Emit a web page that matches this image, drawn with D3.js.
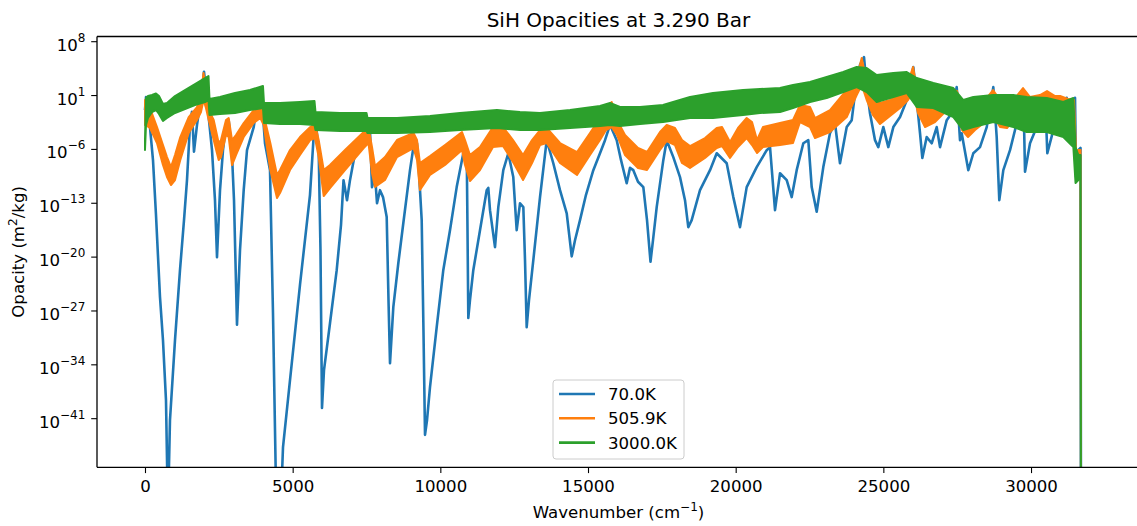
<!DOCTYPE html>
<html>
<head>
<meta charset="utf-8">
<script src="https://cdn.jsdelivr.net/npm/d3@7"></script>
<style>
  body { margin: 0; background: #fff; }
  svg { display: block; }
  text { font-family: "DejaVu Sans", sans-serif; fill: #000; }
</style>
</head>
<body>
<svg id="chart" width="1137" height="526"></svg>
<script>
// SiH opacity spectra at 3.290 bar, values as [wavenumber (cm^-1), log10 opacity (m^2/kg)]
// 70 K: a single spectrum trace
const opacity70K = [
  [0,-0.9],[34,0.8],[85,0.4],[169,-3.1],[271,-7.4],[372,-14.5],[508,-25.2],[609,-30.8],[711,-38.6],[762,-50],
  [796,-50],[846,-41.2],[1016,-30.8],[1185,-21.7],[1321,-15.2],[1422,-10.0],[1524,-2.8],[1591,-1.1],[1659,-6.3],[1761,-2.8],
  [1862,-0.2],[1998,4.1],[2099,0.4],[2269,-6.1],[2370,-12.6],[2438,-20.0],[2540,-11.3],[2641,-6.1],[2743,-2.8],[2834,-2.2],
  [2946,-6.7],[3014,-12.6],[3115,-28.8],[3217,-19.1],[3342,-11.3],[3454,-6.1],[3681,-3.1],[3826,0.4],[3928,2.0],[4063,-5.2],
  [4233,-8.7],[4334,-27.3],[4436,-50],[4622,-50],[4673,-44.7],[4910,-36.0],[5248,-23.6],[5587,-11.9],[5756,-1.5],[5881,-6.1],
  [5942,-19.1],[5993,-39.6],[6061,-34.7],[6264,-28.6],[6491,-21.7],[6637,-15.8],[6722,-10.0],[6840,-12.6],[6941,-10.0],[7067,-7.4],
  [7280,-4.8],[7483,-3.7],[7618,-3.5],[7686,-10.9],[7788,-9.3],[7856,-13.0],[7957,-11.3],[8059,-12.2],[8184,-14.8],[8245,-25.6],
  [8296,-33.8],[8408,-26.5],[8577,-20.8],[8746,-15.6],[8973,-8.7],[9085,-5.8],[9210,-5.2],[9254,-7.4],[9369,-15.2],[9429,-29.5],
  [9481,-43.1],[9549,-41.2],[9650,-36.9],[9877,-29.1],[10100,-21.7],[10327,-16.5],[10554,-10.9],[10778,-6.5],[10893,-6.1],[10920,-16.5],
  [10947,-27.9],[11004,-25.6],[11116,-21.7],[11343,-16.5],[11570,-11.3],[11624,-11.0],[11682,-13.9],[11851,-18.7],[11963,-13.5],[12132,-8.7],
  [12301,-6.5],[12470,-9.6],[12585,-16.5],[12698,-13.0],[12810,-13.5],[12867,-20.4],[12924,-29.1],[13002,-25.6],[13148,-20.4],[13375,-12.2],
  [13602,-4.8],[13825,-7.8],[14052,-11.3],[14279,-14.3],[14448,-19.9],[14560,-17.8],[14729,-15.2],[14932,-11.9],[15180,-8.7],[15406,-6.5],
  [15576,-4.8],[15745,-2.8],[15972,-4.8],[16118,-7.4],[16310,-10.4],[16422,-8.4],[16534,-8.7],[16693,-10.2],[16873,-10.9],[16998,-15.2],
  [17116,-20.6],[17201,-17.8],[17326,-13.5],[17550,-7.4],[17665,-4.8],[17888,-7.0],[18115,-9.6],[18284,-12.6],[18396,-16.1],[18511,-15.2],
  [18792,-11.3],[19131,-8.7],[19358,-6.5],[19696,-7.8],[19920,-12.2],[20147,-16.1],[20373,-10.9],[20712,-8.3],[21051,-6.1],[21163,-5.7],
  [21332,-13.9],[21501,-9.1],[21728,-10.0],[21897,-12.2],[22066,-8.7],[22290,-5.2],[22459,-4.8],[22574,-10.9],[22743,-14.1],[22967,-8.3],
  [23193,-3.9],[23363,-2.6],[23532,-7.8],[23760,-3.1],[23929,-2.2],[24041,1.3],[24210,5.0],[24345,6.0],[24437,2.1],[24548,-1.3],
  [24718,-4.8],[24829,-5.7],[24999,-3.1],[25168,-5.7],[25338,-3.1],[25565,-1.8],[25792,0.4],[26015,4.7],[26130,0.4],[26242,-3.9],
  [26320,-7.1],[26468,-4.4],[26637,-5.2],[26807,-3.1],[26919,-5.7],[27146,-2.2],[27315,-1.3],[27484,2.1],[27596,-4.8],[27653,-3.9],
  [27877,-8.7],[28046,-6.5],[28273,-5.7],[28500,-3.1],[28723,2.1],[28838,-4.4],[28926,-12.6],[29062,-8.7],[29289,-6.1],[29515,-2.6],
  [29739,1.7],[29797,-8.9],[29966,-5.2],[30193,-3.1],[30474,1.3],[30552,-6.5],[30755,-3.5],[30982,0.8],[31094,-2.2],[31209,0.7],
  [31321,-1.8],[31490,0.7],[31524,-9.6],[31603,-6.1],[31676,-5.8],[31693,-60]
];

// 505.9 K: dense line forest, kept as [wavenumber, log10 lower, log10 upper]
const opacity506K = [
  [0,-2.83,0.42],[68,-2.96,0.42],[169,-3.22,-0.62],[406,-5.17,-3.09],[609,-8.03,-5.43],[745,-9.59,-6.99],[880,-10.63,-8.29],[1016,-9.98,-6.73],
  [1195,-7.38,-4.39],[1480,-3.87,-1.79],[1761,-2.18,-0.49],[1896,-1.14,1.07],[1981,0.42,3.93],[2065,-0.62,1.72],[2157,-2.18,-0.88],[2326,-4.78,-2.18],
  [2495,-7.38,-5.17],[2573,-6.99,-4.78],[2743,-4.13,-2.18],[2834,-4.39,-1.92],[2946,-8.03,-4.78],[3081,-6.73,-4.13],[3342,-4.39,-2.57],[3681,-2.57,-0.88],
  [3905,-1.92,-0.23],[4019,-2.83,-1.53],[4243,-8.68,-5.17],[4470,-12.32,-9.33],[4571,-11.67,-8.68],[4910,-8.68,-6.08],[5248,-6.73,-4.39],[5597,-4.78,-3.09],
  [5756,-4.52,-2.70],[5881,-6.99,-4.78],[6051,-12.06,-8.68],[6264,-11.02,-8.03],[6772,-8.68,-6.08],[7405,-5.82,-3.74],[7568,-5.17,-3.22],[7686,-9.07,-5.69],
  [7788,-10.89,-8.16],[8126,-9.98,-6.99],[8533,-6.99,-4.78],[9091,-5.82,-3.87],[9210,-7.38,-4.78],[9311,-11.28,-7.77],[9650,-9.33,-6.86],[10158,-8.03,-5.43],
  [10734,-6.08,-3.74],[10835,-8.03,-4.78],[11004,-10.11,-6.73],[11343,-8.68,-5.69],[11783,-5.69,-3.09],[12122,-5.56,-3.09],[12461,-7.64,-4.78],[12800,-9.98,-6.73],
  [13105,-7.77,-4.78],[13375,-5.43,-3.48],[13602,-5.17,-3.22],[14052,-7.77,-5.17],[14628,-9.33,-6.34],[15068,-6.73,-3.87],[15406,-4.78,-1.92],[15610,-3.48,-0.62],
  [15803,-3.09,0.16],[15982,-4.13,-2.18],[16253,-6.73,-4.13],[16693,-8.42,-5.82],[16998,-8.68,-6.34],[17438,-6.08,-3.74],[17665,-4.91,-2.83],[17945,-5.43,-3.22],
  [18182,-7.77,-4.78],[18454,-8.42,-5.56],[18962,-7.12,-4.52],[19358,-5.82,-3.22],[19537,-5.56,-3.09],[19808,-7.12,-5.04],[20079,-5.69,-3.22],[20373,-4.52,-1.92],
  [20553,-5.43,-2.44],[20723,-6.47,-4.78],[20926,-5.69,-3.09],[21501,-5.43,-2.57],[21941,-5.17,-2.18],[22178,-2.44,-0.23],[22516,-3.09,-0.49],[22685,-4.52,-1.92],
  [23193,-3.74,-0.88],[23760,-1.79,1.72],[24098,1.07,3.28],[24267,2.37,5.88],[24437,0.42,2.76],[24650,-1.53,1.07],[24887,-2.70,0.03],[25226,-1.66,0.42],
  [25565,-0.62,1.07],[25836,0.42,2.76],[26006,1.46,4.71],[26174,-1.27,1.07],[26411,-3.09,-0.23],[26749,-2.44,0.42],[27088,-1.14,1.07],[27325,-0.49,1.72],
  [27494,-1.14,1.59],[27664,-3.48,-0.62],[27867,-4.39,-1.14],[28104,-3.48,-0.62],[28442,-2.44,0.42],[28714,-1.53,1.72],[28950,-3.09,0.42],[29187,-3.22,0.42],
  [29458,-1.92,0.68],[29729,-1.14,1.98],[29966,-1.92,0.81],[30305,-1.66,1.07],[30542,-1.14,1.59],[30813,-1.53,0.94],[30982,-1.40,0.94],[31253,-1.92,0.55],
  [31456,-2.18,0.42],[31524,-7.64,-6.08],[31676,-7.38,-6.08],[31693,-60,-60]
];

// 3000 K: dense line forest, [wavenumber, log10 lower, log10 upper]
const opacity3000K = [
  [0,-6.08,-4.78],[34,-2.83,0.68],[102,-1.92,0.94],[237,-1.14,1.07],[372,-0.88,1.27],[474,-1.40,0.94],[609,-2.31,-0.10],[745,-1.92,0.03],
  [1016,-1.27,0.94],[1354,-0.75,1.72],[1693,-0.23,2.50],[2032,0.16,3.28],[2150,0.42,3.54],[2184,-1.53,0.55],[2540,-1.40,0.81],[3047,-1.27,1.33],
  [3555,-0.88,1.72],[3995,-0.62,2.24],[4029,-2.57,0.03],[4571,-2.70,0.03],[5248,-2.70,0.16],[5739,-2.83,0.29],[5773,-3.48,-1.14],[6603,-3.61,-1.27],
  [7500,-3.61,-1.27],[7534,-3.87,-1.92],[8533,-3.87,-1.92],[9650,-3.74,-1.66],[10666,-3.48,-1.27],[11919,-3.22,-0.88],[12698,-3.48,-1.14],[13375,-3.48,-1.27],
  [14391,-3.22,-0.88],[15406,-2.96,-0.36],[15745,-2.83,0.03],[16084,-2.96,-0.49],[16761,-2.70,-0.49],[17540,-2.44,-0.23],[18454,-1.92,0.81],[19232,-1.92,1.33],
  [20249,-1.53,1.72],[20825,-1.27,1.85],[21501,-1.14,1.98],[21941,-0.62,2.37],[22516,0.16,2.76],[23081,0.68,3.41],[23644,1.46,4.06],[24098,2.11,4.71],
  [24437,1.46,4.58],[24775,0.16,3.67],[25338,0.81,3.93],[25792,1.33,4.06],[26130,-0.49,3.28],[26692,-0.62,2.63],[27370,-1.79,1.98],[27708,-3.48,0.42],
  [28046,-3.09,0.81],[28723,-2.44,1.07],[29402,-3.09,1.07],[29854,-3.74,0.81],[30532,-3.74,0.68],[31094,-4.39,0.16],[31433,-5.69,0.68],[31507,-10.37,-5.69],
  [31603,-9.98,-6.73],[31676,-9.33,-6.73],[31693,-60,-60]
];

const seriesLabels = ["70.0K", "505.9K", "3000.0K"];
const seriesColors = ["#1f77b4", "#ff7f0e", "#2ca02c"];
const xTicks = [0, 5000, 10000, 15000, 20000, 25000, 30000];
const yTickExponents = [8, 1, -6, -13, -20, -27, -34, -41];
const titleText = "SiH Opacities at 3.290 Bar";

const svg = d3.select("#chart");
const plot = { left: 97, top: 36.5, right: 1140, bottom: 467.3 };

const x = d3.scaleLinear().domain([-1625, 33690]).range([plot.left, plot.right]);
const y = d3.scaleLog().domain([Math.pow(10, -47.32), Math.pow(10, 8.676)]).range([plot.bottom, plot.top]);
const yv = e => y(Math.pow(10, e));

svg.append("defs").append("clipPath").attr("id", "plotClip")
  .append("rect").attr("x", plot.left).attr("y", plot.top)
  .attr("width", plot.right - plot.left).attr("height", plot.bottom - plot.top);

const g = svg.append("g").attr("clip-path", "url(#plotClip)");

// 70 K trace
g.append("path")
  .datum(opacity70K)
  .attr("d", d3.line().x(d => x(d[0])).y(d => yv(d[1])))
  .attr("fill", "none").attr("stroke", seriesColors[0])
  .attr("stroke-width", 2.6).attr("stroke-linejoin", "round");

// 505.9 K and 3000 K bands
const band = d3.area().x(d => x(d[0])).y0(d => yv(d[1])).y1(d => yv(d[2]));
[[opacity506K, seriesColors[1]], [opacity3000K, seriesColors[2]]].forEach(([data, color]) => {
  g.append("path").datum(data).attr("d", band)
    .attr("fill", color).attr("stroke", color)
    .attr("stroke-width", 2).attr("stroke-linejoin", "round");
});

// Spines
const spine = svg.append("g").attr("stroke", "#000").attr("stroke-width", 1.3).attr("fill", "none");
spine.append("line").attr("x1", plot.left).attr("x2", plot.left).attr("y1", plot.top).attr("y2", plot.bottom);
spine.append("line").attr("x1", plot.left).attr("x2", plot.right).attr("y1", plot.top).attr("y2", plot.top);
spine.append("line").attr("x1", plot.left).attr("x2", plot.right).attr("y1", plot.bottom).attr("y2", plot.bottom);
spine.append("line").attr("x1", plot.right).attr("x2", plot.right).attr("y1", plot.top).attr("y2", plot.bottom);

// X axis
const xAxis = svg.append("g").attr("transform", `translate(0,${plot.bottom})`)
  .call(d3.axisBottom(x).tickValues(xTicks).tickFormat(d3.format("d")).tickSize(5.8).tickPadding(7.5));
xAxis.select(".domain").remove();
xAxis.selectAll(".tick line").attr("stroke", "#000").attr("stroke-width", 1.1);
xAxis.selectAll(".tick text").attr("font-size", "16.6px").attr("font-family", "DejaVu Sans").attr("fill", "#000");

// Y axis (powers of ten)
const yAxis = svg.append("g");
yTickExponents.forEach(e => {
  const ty = yv(e);
  yAxis.append("line").attr("x1", plot.left - 5.8).attr("x2", plot.left)
    .attr("y1", ty).attr("y2", ty).attr("stroke", "#000").attr("stroke-width", 1.1);
  const t = yAxis.append("text").attr("x", plot.left - 11.6).attr("y", ty + 9)
    .attr("text-anchor", "end").attr("font-size", "16.6px");
  t.append("tspan").text("10");
  t.append("tspan").attr("font-size", "12px").attr("dy", -9)
    .text(e < 0 ? "\u2212" + Math.abs(e) : String(e));
});

// Axis labels
const xl = svg.append("text").attr("x", (plot.left + plot.right) / 2).attr("y", 518)
  .attr("text-anchor", "middle").attr("font-size", "16.6px");
xl.append("tspan").text("Wavenumber (cm");
xl.append("tspan").attr("font-size", "12px").attr("dy", -7).text("\u22121");
xl.append("tspan").attr("dy", 7).text(")");

const yl = svg.append("text").attr("transform", `translate(24,${(plot.top + plot.bottom) / 2}) rotate(-90)`)
  .attr("text-anchor", "middle").attr("font-size", "16.6px");
yl.append("tspan").text("Opacity (m");
yl.append("tspan").attr("font-size", "12px").attr("dy", -7).text("2");
yl.append("tspan").attr("dy", 7).text("/kg)");

// Title
svg.append("text").attr("x", (plot.left + plot.right) / 2).attr("y", 26.5)
  .attr("text-anchor", "middle").attr("font-size", "20px").text(titleText);

// Legend
const legend = svg.append("g");
legend.append("rect").attr("x", 553).attr("y", 380).attr("width", 131).attr("height", 79)
  .attr("rx", 3).attr("fill", "#fff").attr("fill-opacity", 0.8)
  .attr("stroke", "#cccccc").attr("stroke-width", 1);
seriesLabels.forEach((label, i) => {
  const ly = 394 + i * 24.3;
  legend.append("line").attr("x1", 559).attr("x2", 595).attr("y1", ly).attr("y2", ly)
    .attr("stroke", seriesColors[i]).attr("stroke-width", 2.6);
  legend.append("text").attr("x", 608).attr("y", ly + 6).attr("font-size", "16.6px").text(label);
});
</script>
</body>
</html>
